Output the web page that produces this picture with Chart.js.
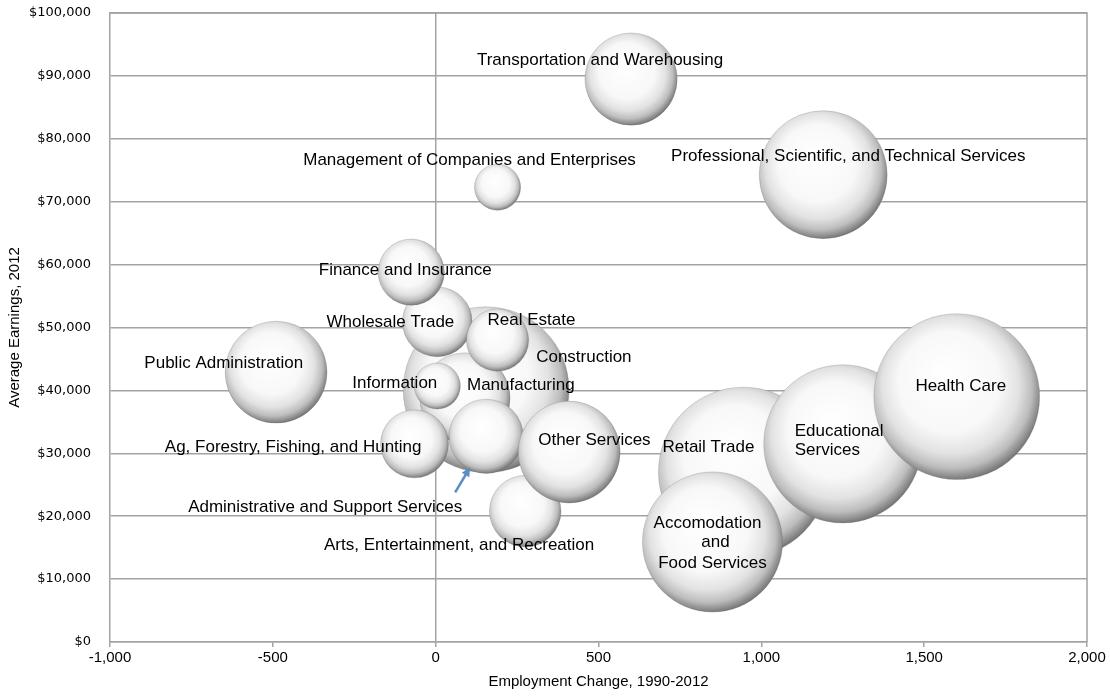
<!DOCTYPE html>
<html>
<head>
<meta charset="utf-8">
<script src="https://cdn.jsdelivr.net/npm/chart.js@4.4.1/dist/chart.umd.min.js"></script>
<style>
  html, body { margin: 0; padding: 0; background: #fff; }
  #wrap { width: 1110px; height: 698px; }
</style>
</head>
<body>
<div id="wrap"><canvas id="bubbleChart" width="1110" height="698"></canvas></div>
<script>
// industries, in drawing order (later ones sit on top)
const industries = [
    "Construction", "Manufacturing", "Retail Trade", "Accomodation and Food Services",
    "Educational Services", "Health Care", "Public Administration",
    "Professional, Scientific, and Technical Services", "Transportation and Warehousing",
    "Management of Companies and Enterprises", "Wholesale Trade", "Finance and Insurance",
    "Real Estate", "Information", "Ag, Forestry, Fishing, and Hunting",
    "Administrative and Support Services", "Arts, Entertainment, and Recreation", "Other Services"
];
const employmentChange = [155, 90, 945, 850, 1250, 1600, -490, 1190, 600, 190, 5, -75, 190, 5, -65, 155, 275, 410];
const avgEarnings = [40100, 38800, 27000, 15900, 31500, 39000, 42900, 74300, 89500, 72300, 50900, 58800, 48000, 40700, 31500, 32700, 20800, 30200];
const bubbleSize = [1100, 325, 1155, 785, 1000, 1100, 415, 655, 340, 85, 195, 175, 155, 85, 185, 220, 205, 415];

const xTicks = [-1000, -500, 0, 500, 1000, 1500, 2000];
const yTicks = [0, 10000, 20000, 30000, 40000, 50000, 60000, 70000, 80000, 90000, 100000];

const gridGray = "#a3a3a3";
const sizeScale = 2.5;

// where each label sits relative to its bubble
const labelPlace = {
    "Transportation and Warehousing": { dx: -31, dy: -19, align: "center" },
    "Management of Companies and Enterprises": { dx: -28, dy: -27, align: "center" },
    "Professional, Scientific, and Technical Services": { dx: 25, dy: -18, align: "center" },
    "Finance and Insurance": { dx: -6, dy: -2, align: "center" },
    "Wholesale Trade": { dx: 17, dy: 0, align: "right" },
    "Real Estate": { dx: -10, dy: -20, align: "left" },
    "Construction": { dx: 50, dy: -32, align: "left" },
    "Manufacturing": { dx: 2, dy: -13, align: "left" },
    "Information": { dx: 0, dy: -3, align: "right" },
    "Public Administration": { dx: 27, dy: -9, align: "right" },
    "Ag, Forestry, Fishing, and Hunting": { dx: 7, dy: 3, align: "right" },
    "Administrative and Support Services": { dx: -24, dy: 71, align: "right" },
    "Arts, Entertainment, and Recreation": { dx: 69, dy: 34, align: "right" },
    "Other Services": { dx: -31, dy: -12, align: "left" },
    "Retail Trade": { dx: -81, dy: -25, align: "left" },
    "Educational Services": { lines: [["Educational", -48, -13], ["Services", -48, 6]], align: "left" },
    "Accomodation and Food Services": { lines: [["Accomodation", -5, -19], ["and", 3, 0], ["Food Services", 0, 21]], align: "center" },
    "Health Care": { dx: 4, dy: -10, align: "center" }
};

function sphereFill(context) {
    const chart = context.chart;
    const scales = chart.scales;
    if (context.type !== "data" || !scales.x || !context.raw) return "#e0e0e0";
    const raw = context.raw;
    const cx = scales.x.getPixelForValue(raw.x);
    const cy = scales.y.getPixelForValue(raw.y);
    const r = raw.r;
    if (!isFinite(cx) || !isFinite(cy) || !isFinite(r)) return "#e0e0e0";
    // light from the top left, darkest rim towards the lower right
    const g = chart.ctx.createRadialGradient(cx - r * 0.15, cy - r * 0.3, 0, cx - r * 0.05, cy - r * 0.08, r * 1.1);
    g.addColorStop(0, "#ffffff");
    g.addColorStop(0.55, "#f8f8f8");
    g.addColorStop(0.75, "#e2e2e2");
    g.addColorStop(0.88, "#bdbdbd");
    g.addColorStop(0.96, "#8a8a8a");
    g.addColorStop(1, "#6e6e6e");
    return g;
}

const framePlugin = {
    id: "frame",
    beforeDatasetsDraw(chart) {
        const { ctx, chartArea: a } = chart;
        ctx.save();
        ctx.strokeStyle = gridGray;
        ctx.lineWidth = 1.5;
        ctx.beginPath();
        ctx.moveTo(a.left, a.top);
        ctx.lineTo(a.right, a.top);
        ctx.lineTo(a.right, a.bottom);
        ctx.stroke();
        ctx.restore();
    }
};

const labelPlugin = {
    id: "bubbleLabels",
    afterDatasetsDraw(chart) {
        const ctx = chart.ctx;
        const meta = chart.getDatasetMeta(0);
        ctx.save();
        ctx.font = "17px 'Liberation Sans', Arial, sans-serif";
        ctx.fillStyle = "#000";
        ctx.textBaseline = "middle";
        industries.forEach((name, i) => {
            const pt = meta.data[i];
            const p = labelPlace[name];
            ctx.textAlign = p.align;
            if (p.lines) {
                p.lines.forEach(l => ctx.fillText(l[0], pt.x + l[1], pt.y + l[2]));
            } else {
                ctx.fillText(name, pt.x + p.dx, pt.y + p.dy);
            }
        });

        // arrow pointing from the label to the admin bubble
        const adm = meta.data[industries.indexOf("Administrative and Support Services")];
        const x1 = adm.x - 31, y1 = adm.y + 56, x2 = adm.x - 16, y2 = adm.y + 31;
        const ang = Math.atan2(y2 - y1, x2 - x1);
        ctx.strokeStyle = "#5b8ec8";
        ctx.fillStyle = "#5b8ec8";
        ctx.lineWidth = 2.5;
        ctx.beginPath();
        ctx.moveTo(x1, y1);
        ctx.lineTo(x2 - 4 * Math.cos(ang), y2 - 4 * Math.sin(ang));
        ctx.stroke();
        ctx.beginPath();
        ctx.moveTo(x2, y2);
        ctx.lineTo(x2 - 10 * Math.cos(ang - 0.45), y2 - 10 * Math.sin(ang - 0.45));
        ctx.lineTo(x2 - 10 * Math.cos(ang + 0.45), y2 - 10 * Math.sin(ang + 0.45));
        ctx.closePath();
        ctx.fill();
        ctx.restore();
    }
};

const points = industries.map((name, i) => ({
    x: employmentChange[i],
    y: avgEarnings[i],
    r: sizeScale * Math.sqrt(bubbleSize[i])
}));

new Chart(document.getElementById("bubbleChart"), {
    type: "bubble",
    data: {
        datasets: [{
            label: "Industries",
            data: points,
            backgroundColor: sphereFill,
            borderColor: "rgba(100,100,100,0.4)",
            borderWidth: 0.6,
            clip: false
        }]
    },
    options: {
        responsive: false,
        animation: false,
        events: [],
        layout: { autoPadding: false, padding: { top: 13, right: 23, left: 0, bottom: 0 } },
        plugins: {
            legend: { display: false },
            tooltip: { enabled: false }
        },
        scales: {
            x: {
                type: "linear",
                min: -1000,
                max: 2000,
                afterBuildTicks: scale => { scale.ticks = xTicks.map(v => ({ value: v })); },
                afterFit: scale => {
                    scale.height = 56;
                    scale.paddingLeft = 0;
                    scale.paddingRight = 0;
                },
                border: { display: true, color: gridGray, width: 1.5 },
                grid: {
                    color: c => (c.tick && c.tick.value === 0 ? gridGray : "rgba(0,0,0,0)"),
                    lineWidth: 1.5,
                    drawTicks: true,
                    tickLength: 5,
                    tickColor: gridGray,
                    tickWidth: 1.5
                },
                ticks: {
                    color: "#000",
                    padding: 2,
                    maxRotation: 0,
                    font: { family: "'Liberation Sans', Arial, sans-serif", size: 15 },
                    callback: v => v.toLocaleString("en-US")
                },
                title: {
                    display: true,
                    text: "Employment Change, 1990-2012",
                    color: "#000",
                    padding: { top: 0, bottom: 7 },
                    font: { family: "'Liberation Sans', Arial, sans-serif", size: 15 }
                }
            },
            y: {
                type: "linear",
                min: 0,
                max: 100000,
                afterBuildTicks: scale => { scale.ticks = yTicks.map(v => ({ value: v })); },
                afterFit: scale => {
                    scale.width = 110;
                    scale.paddingTop = 0;
                    scale.paddingBottom = 0;
                },
                border: { display: true, color: gridGray, width: 1.5 },
                grid: {
                    color: gridGray,
                    lineWidth: 1.5,
                    drawTicks: false
                },
                ticks: {
                    color: "#000",
                    padding: 19,
                    font: { family: "'DejaVu Sans', Tahoma, sans-serif", size: 13 },
                    callback: v => "$" + v.toLocaleString("en-US")
                },
                title: {
                    display: true,
                    text: "Average Earnings, 2012",
                    color: "#000",
                    padding: { top: 6, bottom: 0 },
                    font: { family: "'Liberation Sans', Arial, sans-serif", size: 15 }
                }
            }
        }
    },
    plugins: [framePlugin, labelPlugin]
});
</script>
</body>
</html>
